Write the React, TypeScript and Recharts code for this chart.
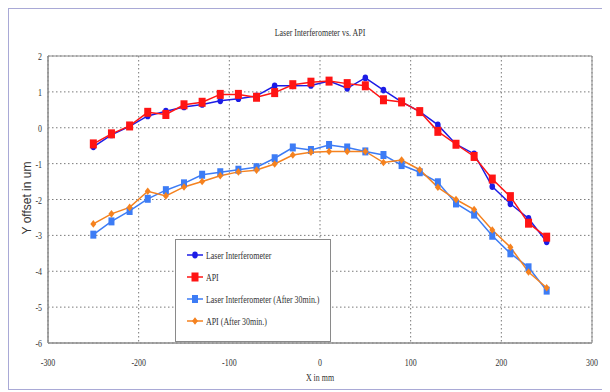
import {
  LineChart,
  Line,
  XAxis,
  YAxis,
  CartesianGrid,
  Legend,
  ReferenceArea,
} from 'recharts';

const xPositions = [
  -250, -230, -210, -190, -170, -150, -130, -110, -90, -70, -50, -30, -10,
  10, 30, 50, 70, 90, 110, 130, 150, 170, 190, 210, 230, 250,
];

const laser = [
  -0.53, -0.2, 0.04, 0.33, 0.46, 0.58, 0.65, 0.75, 0.81, 0.89, 1.17, 1.17, 1.18,
  1.3, 1.1, 1.39, 1.05, 0.72, 0.45, 0.08, -0.46, -0.73, -1.64, -2.12, -2.53, -3.18,
];

const api = [
  -0.45, -0.17, 0.05, 0.43, 0.37, 0.64, 0.71, 0.93, 0.93, 0.85, 0.98, 1.2, 1.27,
  1.3, 1.23, 1.17, 0.78, 0.72, 0.45, -0.1, -0.46, -0.8, -1.43, -1.92, -2.66, -3.05,
];

const laserAfter30 = [
  -2.98, -2.61, -2.32, -1.98, -1.74, -1.55, -1.31, -1.24, -1.17, -1.1, -0.85, -0.55, -0.62,
  -0.48, -0.55, -0.66, -0.76, -1.04, -1.24, -1.52, -2.11, -2.42, -3.01, -3.5, -3.89, -4.54,
];

const apiAfter30 = [
  -2.68, -2.4, -2.22, -1.77, -1.9, -1.65, -1.5, -1.34, -1.23, -1.18, -1.01, -0.76, -0.68,
  -0.66, -0.66, -0.66, -0.97, -0.9, -1.17, -1.66, -2.0, -2.28, -2.85, -3.33, -4.02, -4.46,
];

const xTicks = [-300, -200, -100, 0, 100, 200, 300];
const yTicks = [-6, -5, -4, -3, -2, -1, 0, 1, 2];

const data = xPositions.map((x, i) => ({
  x,
  laser: laser[i],
  api: api[i],
  laserAfter30: laserAfter30[i],
  apiAfter30: apiAfter30[i],
}));

const SERIF = '"Liberation Serif", "Times New Roman", serif';
const SQUEEZE = 0.72;

type MarkerKind = 'dot' | 'square' | 'smallSquare' | 'diamond';

const series: { key: string; name: string; color: string; marker: MarkerKind }[] = [
  { key: 'laser', name: 'Laser Interferometer', color: '#1c1ce6', marker: 'dot' },
  { key: 'api', name: 'API', color: '#ff1414', marker: 'square' },
  { key: 'laserAfter30', name: 'Laser Interferometer (After 30min.)', color: '#3d7cf5', marker: 'smallSquare' },
  { key: 'apiAfter30', name: 'API (After 30min.)', color: '#f5821f', marker: 'diamond' },
];

function marker(kind: MarkerKind, cx: number, cy: number, color: string, key?: number) {
  switch (kind) {
    case 'dot':
      return <ellipse key={key} cx={cx} cy={cy} rx={2.8} ry={3.4} fill={color} />;
    case 'square':
      return <rect key={key} x={cx - 3.5} y={cy - 4.5} width={7} height={9} fill={color} />;
    case 'smallSquare':
      return <rect key={key} x={cx - 3} y={cy - 4} width={6} height={8} fill={color} />;
    default:
      return (
        <path
          key={key}
          d={`M${cx},${cy - 3.8} L${cx + 3},${cy} L${cx},${cy + 3.8} L${cx - 3},${cy} Z`}
          fill={color}
        />
      );
  }
}

const XTick = (props: any) => {
  const { x, y, payload } = props;
  return (
    <g transform={`translate(${x},${y + 23}) scale(${SQUEEZE},1)`}>
      <text textAnchor="middle" fontFamily={SERIF} fontSize={11} fill="#333">
        {payload.value}
      </text>
    </g>
  );
};

const YTick = (props: any) => {
  const { x, y, payload } = props;
  return (
    <g transform={`translate(${x - 6},${y + 4}) scale(${SQUEEZE},1)`}>
      <text textAnchor="end" fontFamily={SERIF} fontSize={11} fill="#333">
        {payload.value}
      </text>
    </g>
  );
};

const LegendBox = () => (
  <div
    style={{
      width: 156,
      height: 103,
      boxSizing: 'border-box',
      border: '1px solid #8a8a8a',
      background: '#fff',
      paddingTop: 4,
    }}
  >
    {series.map((s) => (
      <div key={s.key} style={{ height: 22, display: 'flex', alignItems: 'center' }}>
        <svg width={30} height={12} style={{ flex: 'none' }}>
          <line x1={11} y1={6} x2={27} y2={6} stroke={s.color} strokeWidth={1.5} />
          {marker(s.marker, 19, 6, s.color)}
        </svg>
        <span
          style={{
            fontFamily: SERIF,
            fontSize: 11,
            color: '#333',
            whiteSpace: 'nowrap',
            display: 'inline-block',
            transform: `scaleX(${SQUEEZE})`,
            transformOrigin: 'left center',
          }}
        >
          {s.name}
        </span>
      </div>
    ))}
  </div>
);

export default function App() {
  return (
    <div
      style={{
        position: 'relative',
        width: 596,
        height: 380,
        border: '1px solid #a9a9d6',
        background: '#fff',
      }}
    >
      <div
        style={{
          position: 'absolute',
          left: 211,
          top: 17,
          width: 200,
          textAlign: 'center',
          fontFamily: SERIF,
          fontSize: 11,
          color: '#333',
          transform: `scaleX(${SQUEEZE})`,
          whiteSpace: 'nowrap',
        }}
      >
        Laser Interferometer vs. API
      </div>
      <div
        style={{
          position: 'absolute',
          left: 261,
          top: 362,
          width: 100,
          textAlign: 'center',
          fontFamily: SERIF,
          fontSize: 11,
          color: '#333',
          transform: `scaleX(${SQUEEZE})`,
          whiteSpace: 'nowrap',
        }}
      >
        X in mm
      </div>
      <div
        style={{
          position: 'absolute',
          left: -32,
          top: 182,
          width: 100,
          textAlign: 'center',
          fontFamily: '"Liberation Sans", Arial, sans-serif',
          fontSize: 12,
          color: '#333',
          transform: 'rotate(-90deg)',
          whiteSpace: 'nowrap',
        }}
      >
        Y offset in um
      </div>
      <div style={{ position: 'absolute', left: 0, top: 0 }}>
        <LineChart
          width={596}
          height={380}
          data={data}
          margin={{ top: 47, right: 13, left: 0, bottom: 16 }}
        >
          <CartesianGrid stroke="#7a7a7a" strokeDasharray="1.5 2.5" />
          <XAxis
            dataKey="x"
            type="number"
            domain={[-300, 300]}
            ticks={xTicks}
            height={30}
            tickLine={false}
            tickSize={0}
            tickMargin={0}
            axisLine={{ stroke: '#8a8a8a' }}
            tick={<XTick />}
            interval={0}
          />
          <YAxis
            type="number"
            domain={[-6, 2]}
            ticks={yTicks}
            width={39}
            tickLine={false}
            tickSize={0}
            tickMargin={0}
            axisLine={{ stroke: '#8a8a8a' }}
            tick={<YTick />}
            interval={0}
          />
          <ReferenceArea
            x1={-300}
            x2={300}
            y1={-6}
            y2={2}
            fill="none"
            stroke="#8a8a8a"
            strokeWidth={1}
          />
          {series.map((s) => (
            <Line
              key={s.key}
              dataKey={s.key}
              name={s.name}
              stroke={s.color}
              strokeWidth={1.5}
              isAnimationActive={false}
              dot={(p: any) => marker(s.marker, p.cx, p.cy, s.color, p.index)}
              activeDot={false}
            />
          ))}
          <Legend
            layout="vertical"
            align="center"
            verticalAlign="middle"
            content={<LegendBox />}
            wrapperStyle={{ left: 166, top: 230, width: 156, height: 103 }}
          />
        </LineChart>
      </div>
    </div>
  );
}
